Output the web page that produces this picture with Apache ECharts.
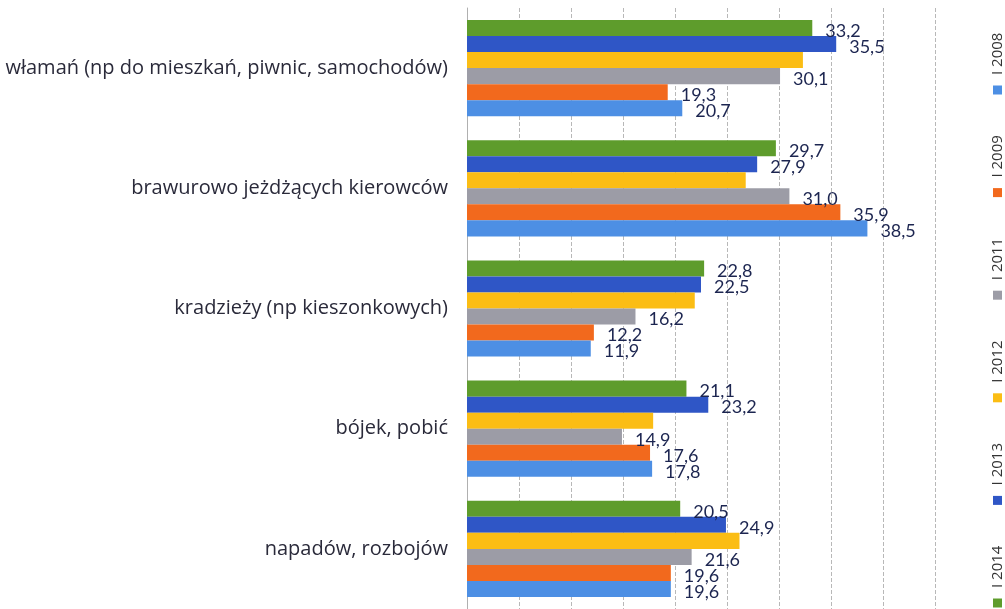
<!DOCTYPE html>
<html>
<head>
<meta charset="utf-8">
<script src="https://cdn.jsdelivr.net/npm/echarts@6/dist/echarts.min.js"></script>
<style>
  html, body { margin: 0; padding: 0; background: #fff; }
  #chart { width: 1005px; height: 609px; }
</style>
</head>
<body>
<div id="chart"></div>
<script>
var categories = [
    'włamań (np do mieszkań, piwnic, samochodów)',
    'brawurowo jeżdżących kierowców',
    'kradzieży (np kieszonkowych)',
    'bójek, pobić',
    'napadów, rozbojów'
];
var seriesNames = ['I 2014', 'I 2013', 'I 2012', 'I 2011', 'I 2009', 'I 2008'];
var colors = ['#5e9c2c', '#2f56c6', '#fbbd14', '#9c9ca6', '#f2691d', '#4d8fe4'];
var v2014 = [33.2, 29.7, 22.8, 21.1, 20.5];
var v2013 = [35.5, 27.9, 22.5, 23.2, 24.9];
var v2012 = [32.3, 26.8, 21.9, 17.9, 26.2];
var v2011 = [30.1, 31.0, 16.2, 14.9, 21.6];
var v2009 = [19.3, 35.9, 12.2, 17.6, 19.6];
var v2008 = [20.7, 38.5, 11.9, 17.8, 19.6];
var values = [v2014, v2013, v2012, v2011, v2009, v2008];
var showLabel = [true, true, false, true, true, true];

var chart = echarts.init(document.getElementById('chart'));

var series = seriesNames.map(function(name, i) {
    return {
        name: name,
        type: 'bar',
        data: values[i],
        barGap: '0%',
        barCategoryGap: '20%',
        itemStyle: { color: colors[i] },
        label: {
            show: showLabel[i],
            position: 'right',
            distance: 13,
            offset: [0, 3],
            color: '#1c2550',
            fontFamily: 'Lato',
            fontSize: 18,
            formatter: function(p) {
                return p.value.toFixed(1).replace('.', ',');
            }
        }
    };
});

// legend drawn by hand: text rotated to read upward, marker below it
var legendItems = [];
seriesNames.forEach(function(name, i) {
    var my = 603 - 102.6 * i;
    legendItems.push({
        type: 'rect',
        shape: { x: 993, y: my - 4.5, width: 9, height: 9 },
        style: { fill: colors[i] }
    });
    legendItems.push({
        type: 'text',
        x: 998,
        y: my - 15,
        rotation: Math.PI / 2,
        style: {
            text: name,
            fill: '#333',
            font: '15px "Open Sans"',
            textAlign: 'left',
            textVerticalAlign: 'middle'
        }
    });
});

var option = {
    animation: false,
    grid: { left: 467, right: 70, top: 8, bottom: -9 },
    xAxis: {
        type: 'value',
        min: 0,
        max: 45,
        interval: 5,
        axisLabel: { show: false },
        axisLine: { show: false },
        axisTick: { show: false },
        splitLine: { lineStyle: { color: '#b8b8b8', type: 'dashed' } }
    },
    yAxis: {
        type: 'category',
        inverse: true,
        data: categories,
        axisLine: { lineStyle: { color: '#b0b0b0' } },
        axisTick: { length: 6, lineStyle: { color: '#a8a8a8' } },
        axisLabel: {
            margin: 19,
            padding: [10, 0, 0, 0],
            color: '#2a2a3a',
            fontFamily: 'Open Sans',
            fontSize: 20
        }
    },
    series: series,
    graphic: legendItems
};

chart.setOption(option);
</script>
</body>
</html>
